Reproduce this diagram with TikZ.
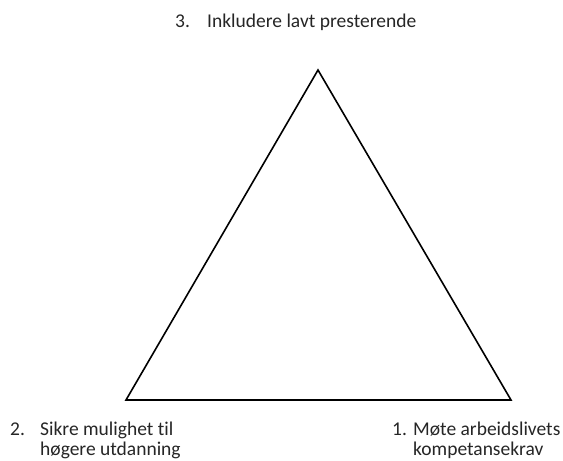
\documentclass[tikz,border=0pt]{standalone}
\usepackage{fontspec}
\setmainfont{Carlito}[Ligatures={NoCommon}]
\begin{document}
\begin{tikzpicture}[x=1pt,y=-1pt,
  lbl/.style={anchor=base west,inner sep=0pt,font=\fontsize{19.5}{22}\selectfont,text=black!85},
  edge/.style={draw=black,line width=1.6pt,line join=miter}]
\useasboundingbox[fill=white] (0,0) rectangle (563,461);
\coordinate (apex) at (318,70);
\coordinate (bl) at (126,400);
\coordinate (br) at (511,400);
\draw[edge] (apex) -- (bl) -- (br) -- cycle;
\node[lbl] (n3) at (175,27) {3.};
\node[lbl] (t3) at (207,27) {Inkludere lavt presterende};
\node[lbl] (n2) at (10,435) {2.};
\node[lbl] (t2a) at (40,435) {Sikre mulighet til};
\node[lbl] (t2b) at (40,455) {høgere utdanning};
\node[lbl] (n1) at (392,435) {1.};
\node[lbl] (t1a) at (413,435) {Møte arbeidslivets};
\node[lbl] (t1b) at (413,455) {kompetansekrav};
\end{tikzpicture}
\end{document}
